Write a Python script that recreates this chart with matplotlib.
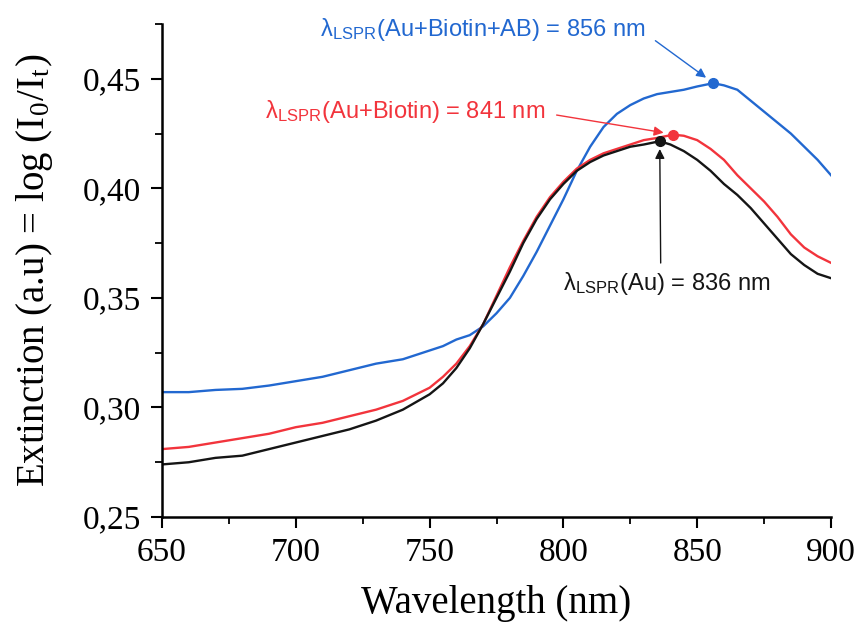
import numpy as np
import matplotlib.pyplot as plt

# wavelength (nm) and extinction values
wl_ab = [650, 660, 670, 680, 690, 700, 710, 720, 730, 740, 750, 755, 760, 765, 770,
         775, 780, 785, 790, 795, 800, 805, 810, 815, 820, 825, 830, 835, 840, 845,
         850, 856, 860, 865, 870, 875, 880, 885, 890, 895, 900]
ext_ab = [0.307, 0.307, 0.308, 0.3085, 0.310, 0.312, 0.314, 0.317, 0.320, 0.322, 0.326,
          0.328, 0.331, 0.333, 0.337, 0.343, 0.350, 0.360, 0.371, 0.383, 0.395, 0.408,
          0.419, 0.428, 0.434, 0.438, 0.441, 0.443, 0.444, 0.445, 0.4465, 0.448, 0.447,
          0.445, 0.440, 0.435, 0.430, 0.425, 0.419, 0.413, 0.406]

wl_bio = [650, 660, 670, 680, 690, 700, 710, 720, 730, 740, 750, 755, 760, 765, 770,
          775, 780, 785, 790, 795, 800, 805, 810, 815, 820, 825, 830, 835, 841, 845,
          850, 855, 860, 865, 870, 875, 880, 885, 890, 895, 900]
ext_bio = [0.281, 0.282, 0.284, 0.286, 0.288, 0.291, 0.293, 0.296, 0.299, 0.303, 0.309,
           0.314, 0.320, 0.328, 0.338, 0.351, 0.364, 0.376, 0.387, 0.396, 0.403, 0.409,
           0.413, 0.416, 0.418, 0.420, 0.422, 0.423, 0.4245, 0.424, 0.422, 0.418, 0.413,
           0.406, 0.400, 0.394, 0.387, 0.379, 0.373, 0.369, 0.366]

wl_au = [650, 660, 670, 680, 690, 700, 710, 720, 730, 740, 750, 755, 760, 765, 770,
         775, 780, 785, 790, 795, 800, 805, 810, 815, 820, 825, 830, 836, 840, 845,
         850, 855, 860, 865, 870, 875, 880, 885, 890, 895, 900]
ext_au = [0.274, 0.275, 0.277, 0.278, 0.281, 0.284, 0.287, 0.290, 0.294, 0.299, 0.306,
          0.311, 0.318, 0.327, 0.338, 0.350, 0.362, 0.375, 0.386, 0.395, 0.402, 0.408,
          0.412, 0.415, 0.417, 0.419, 0.420, 0.4215, 0.420, 0.417, 0.413, 0.408, 0.402,
          0.397, 0.391, 0.384, 0.377, 0.370, 0.365, 0.361, 0.359]

# peak positions
peak_wl = [856, 841, 836]
peak_ext = [0.448, 0.4245, 0.4215]

xticks = [650, 700, 750, 800, 850, 900]
yticks = [0.25, 0.30, 0.35, 0.40, 0.45]
ytick_labels = ['0,25', '0,30', '0,35', '0,40', '0,45']

blue = '#2268d0'
red = '#f2343c'
black = '#151515'

plt.rcParams['mathtext.fontset'] = 'stix'

fig = plt.figure(figsize=(8.59, 6.27), dpi=100)
ax = fig.add_axes([0.1886, 0.1754, 0.7788, 0.7863])

ax.plot(wl_ab, ext_ab, color=blue, lw=1.7)
ax.plot(wl_bio, ext_bio, color=red, lw=1.7)
ax.plot(wl_au, ext_au, color=black, lw=1.7)

for xw, yv, c in zip(peak_wl, peak_ext, [blue, red, black]):
    ax.plot(xw, yv, 'o', color=c, ms=7)

ax.set_xlim(650, 900)
ax.set_ylim(0.25, 0.475)

ax.spines['top'].set_visible(False)
ax.spines['right'].set_visible(False)
ax.spines['left'].set_linewidth(1.8)
ax.spines['bottom'].set_linewidth(1.8)

ax.set_xticks(xticks)
ax.set_xticks([675, 725, 775, 825, 875], minor=True)
ax.set_yticks(yticks)
ax.set_yticklabels(ytick_labels)
ax.set_yticks([0.275, 0.325, 0.375, 0.425, 0.475], minor=True)
ax.tick_params(which='major', length=8, width=1.5, labelsize=24, pad=7)
ax.tick_params(which='minor', length=5, width=1.3)
for lab in ax.get_xticklabels() + ax.get_yticklabels():
    lab.set_family('Liberation Serif')

ax.set_xlabel('Wavelength (nm)', family='Liberation Serif', fontsize=28, labelpad=12)
ax.set_ylabel(r'Extinction (a.u) = log (I$_{\mathregular{0}}$/I$_{\mathregular{t}}$)',
              family='Liberation Serif', fontsize=28, labelpad=20)

ann = dict(family='Liberation Sans', fontsize=17)
ax.annotate(r'λ$_{\mathregular{LSPR}}$(Au+Biotin+AB) = 856 nm',
            xy=(peak_wl[0] - 1, peak_ext[0] + 0.001), xytext=(770, 0.4724),
            color=blue, ha='center', va='center', **ann,
            arrowprops=dict(arrowstyle='-|>', color=blue, lw=1.0, shrinkA=6, shrinkB=4,
                            relpos=(1.0, 0.35), mutation_scale=14))
ax.annotate(r'λ$_{\mathregular{LSPR}}$(Au+Biotin) = 841 nm',
            xy=(peak_wl[1] - 1.5, peak_ext[1] + 0.0005), xytext=(741, 0.4349),
            color=red, ha='center', va='center', **ann,
            arrowprops=dict(arrowstyle='-|>', color=red, lw=1.0, shrinkA=6, shrinkB=4,
                            relpos=(1.0, 0.45), mutation_scale=14))
ax.annotate(r'λ$_{\mathregular{LSPR}}$(Au) = 836 nm',
            xy=(peak_wl[2], peak_ext[2] - 0.001), xytext=(838.7, 0.3566),
            color=black, ha='center', va='center', **ann,
            arrowprops=dict(arrowstyle='-|>', color=black, lw=1.0, shrinkA=3, shrinkB=4,
                            relpos=(0.47, 1.0), mutation_scale=14))

fig.savefig('out.png', dpi=100)
